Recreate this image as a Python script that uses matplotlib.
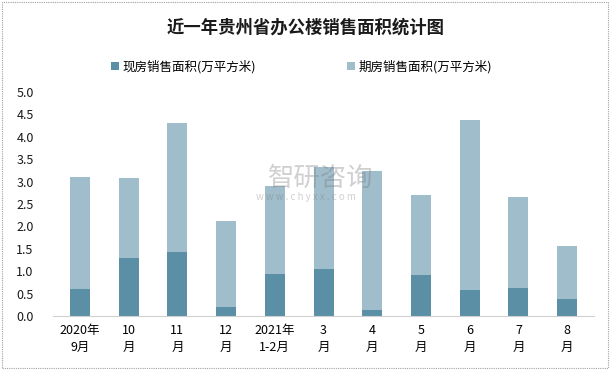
import matplotlib
matplotlib.use("Agg")
import matplotlib.pyplot as plt
import numpy as np

plt.rcParams['font.family'] = ['Noto Sans CJK SC', 'DejaVu Sans']

# 数据
months = ["2020年\n9月", "10\n月", "11\n月", "12\n月", "2021年\n1-2月", "3\n月",
          "4\n月", "5\n月", "6\n月", "7\n月", "8\n月"]
xianfang = [0.60, 1.29, 1.43, 0.20, 0.94, 1.05, 0.13, 0.92, 0.58, 0.62, 0.38]
total = [3.10, 3.08, 4.31, 2.12, 2.90, 3.32, 3.24, 2.70, 4.37, 2.66, 1.56]
qifang = [round(t - x, 2) for t, x in zip(total, xianfang)]

c_dark = '#5b8fa5'
c_light = '#9fbdcb'

fig = plt.figure(figsize=(6.11, 3.69), dpi=100)
ax = fig.add_axes([0.087, 0.1436, 0.885, 0.607])

x = np.arange(len(months))
ax.bar(x, xianfang, width=0.41, color=c_dark, label='现房销售面积(万平方米)')
ax.bar(x, qifang, width=0.41, bottom=xianfang, color=c_light, label='期房销售面积(万平方米)')

ax.set_ylim(0, 5)
ax.set_xlim(-0.55, len(months) - 0.45)
ax.set_yticks(np.arange(0, 5.01, 0.5))
ax.set_yticklabels(['%.1f' % v for v in np.arange(0, 5.01, 0.5)], fontsize=9, color='#1a1a1a')
ax.set_xticks(x)
ax.set_xticklabels(months, fontsize=9, color='black', linespacing=1.4)
ax.tick_params(axis='both', length=0, pad=6)
ax.tick_params(axis='y', pad=14)
for s in ['top', 'right', 'left']:
    ax.spines[s].set_visible(False)
ax.spines['bottom'].set_color('#d0d0d0')

fig.text(0.5, 0.925, '近一年贵州省办公楼销售面积统计图', ha='center', va='center',
         fontsize=12.5, fontweight='bold', color='#1a1a1a')

fig.legend(loc='center', bbox_to_anchor=(0.494, 0.82), ncol=2, frameon=False,
           fontsize=9, handlelength=0.6, handleheight=0.6, handletextpad=0.3,
           columnspacing=7.3)

# 水印
fig.text(0.525, 0.517, '智研咨询', ha='center', va='center', fontsize=19,
         color='#7a7a7a', alpha=0.35)
fig.text(0.5, 0.466, 'w w w . c h y x x . c o m', ha='center', va='center',
         fontsize=7, color='#7a7a7a', alpha=0.35)

# 外框
fig.patches.append(plt.Rectangle((0.003, 0.004), 0.992, 0.99, transform=fig.transFigure,
                                 fill=False, edgecolor='#a0a0a0', linewidth=0.8,
                                 linestyle=(0, (1, 1))))

fig.savefig('out.png', dpi=100)
